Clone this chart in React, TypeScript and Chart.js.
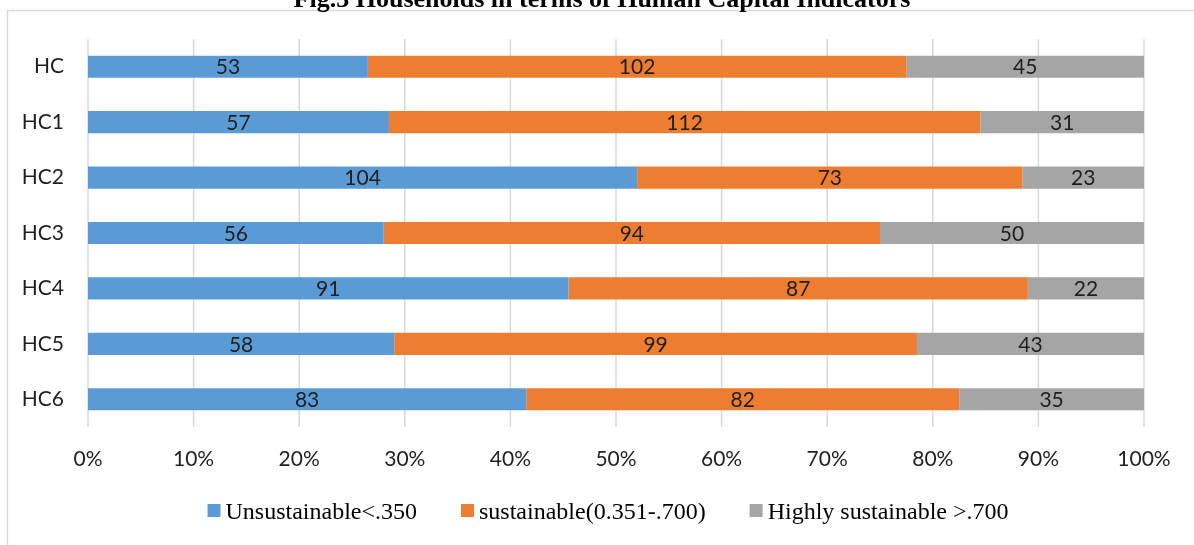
import React, { useEffect, useRef } from "react";
import { Chart, registerables } from "chart.js";

Chart.register(...registerables);

const titleText = "Fig.3 Households in terms of Human Capital Indicators";
const categories = ["HC", "HC1", "HC2", "HC3", "HC4", "HC5", "HC6"];
const unsustainable = [53, 57, 104, 56, 91, 58, 83];
const sustainable = [102, 112, 73, 94, 87, 99, 82];
const highlySustainable = [45, 31, 23, 50, 22, 43, 35];
const seriesNames = ["Unsustainable<.350", "sustainable(0.351-.700)", "Highly sustainable >.700"];
const seriesColors = ["#5B9BD5", "#ED7D31", "#A5A5A5"];
const xTicks = [0, 10, 20, 30, 40, 50, 60, 70, 80, 90, 100];

const seriesCounts = [unsustainable, sustainable, highlySustainable];
const totals = categories.map((_, i) => seriesCounts.reduce((s, arr) => s + arr[i], 0));
const toPct = (arr: number[]) => arr.map((v, i) => (v / totals[i]) * 100);

const LABEL_FONT = '21px "Lato"';
const LEGEND_FONT = '24px "Liberation Serif"';

const decorPlugin = {
  id: "decor",
  beforeDraw(chart: any) {
    const ctx = chart.ctx;
    ctx.save();
    ctx.strokeStyle = "#d9d9d9";
    ctx.lineWidth = 1.5;
    ctx.strokeRect(7.5, 10.5, 1400, 1000);
    ctx.restore();
  },
  beforeDatasetsDraw(chart: any) {
    const ctx = chart.ctx;
    const area = chart.chartArea;
    const xs = chart.scales.x;
    ctx.save();
    ctx.strokeStyle = "#d9d9d9";
    ctx.lineWidth = 1.5;
    xTicks.forEach((v) => {
      const px = xs.getPixelForValue(v);
      ctx.beginPath();
      ctx.moveTo(px, area.top);
      ctx.lineTo(px, area.bottom);
      ctx.stroke();
    });
    ctx.restore();
  },
  afterDatasetsDraw(chart: any) {
    const ctx = chart.ctx;
    ctx.save();
    ctx.font = LABEL_FONT;
    ctx.fillStyle = "#1f1f1f";
    ctx.textAlign = "center";
    ctx.textBaseline = "middle";
    chart.data.datasets.forEach((ds: any, di: number) => {
      const meta = chart.getDatasetMeta(di);
      meta.data.forEach((el: any, i: number) => {
        const cx = (el.x + el.base) / 2;
        ctx.fillText(String(seriesCounts[di][i]), cx, el.y + 1);
      });
    });
    ctx.restore();
  },
  afterDraw(chart: any) {
    const ctx = chart.ctx;
    ctx.save();
    // title (partly cropped at the top, as in the reference)
    ctx.font = 'bold 26px "Liberation Serif"';
    ctx.fillStyle = "#000";
    ctx.textAlign = "center";
    ctx.textBaseline = "alphabetic";
    ctx.fillText(titleText, 602, 7);

    // legend
    ctx.font = LEGEND_FONT;
    const box = 13;
    const gapBoxText = 5;
    const gapItems = 44;
    const widths = seriesNames.map((t) => ctx.measureText(t).width);
    const total = widths.reduce((s, w) => s + box + gapBoxText + w, 0) + gapItems * (seriesNames.length - 1);
    let x = 608 - total / 2;
    ctx.textAlign = "left";
    seriesNames.forEach((t, i) => {
      ctx.fillStyle = seriesColors[i];
      ctx.fillRect(x, 504, box, box);
      ctx.fillStyle = "#000";
      ctx.fillText(t, x + box + gapBoxText, 519);
      x += box + gapBoxText + widths[i] + gapItems;
    });
    ctx.restore();
  },
};

export default function App() {
  const ref = useRef<HTMLCanvasElement>(null);
  useEffect(() => {
    if (!ref.current) return;
    const chart = new Chart(ref.current, {
      type: "bar",
      data: {
        labels: categories,
        datasets: seriesCounts.map((arr, i) => ({
          label: seriesNames[i],
          data: toPct(arr),
          backgroundColor: seriesColors[i],
          borderWidth: 0,
          barPercentage: 0.4,
          categoryPercentage: 1,
        })),
      },
      options: {
        indexAxis: "y",
        responsive: false,
        animation: false,
        events: [],
        layout: { padding: { left: 0, right: 50, top: 39, bottom: 58 } },
        plugins: {
          legend: { display: false },
          title: { display: false },
          tooltip: { enabled: false },
        },
        scales: {
          x: {
            stacked: true,
            min: 0,
            max: 100,
            afterBuildTicks: (scale: any) => {
              scale.ticks = xTicks.map((v) => ({ value: v }));
            },
            afterFit: (scale: any) => {
              scale.height = 60;
            },
            border: { display: false },
            grid: { display: false, drawTicks: false, tickLength: 0 },
            ticks: {
              padding: 20,
              color: "#1f1f1f",
              font: { family: "Lato", size: 21 },
              callback: (v: any) => `${v}%`,
              maxRotation: 0,
            },
          },
          y: {
            stacked: true,
            afterFit: (scale: any) => {
              scale.width = 88;
            },
            border: { display: false },
            grid: { display: false, drawTicks: false, tickLength: 0 },
            ticks: {
              padding: 24,
              color: "#1f1f1f",
              font: { family: "Lato", size: 21 },
            },
          },
        },
      },
      plugins: [decorPlugin],
    });
    return () => chart.destroy();
  }, []);
  return (
    <div style={{ position: "fixed", left: 0, top: 0, width: 1194, height: 545, background: "#fff" }}>
      <canvas ref={ref} width={1194} height={545} style={{ display: "block" }} />
    </div>
  );
}
